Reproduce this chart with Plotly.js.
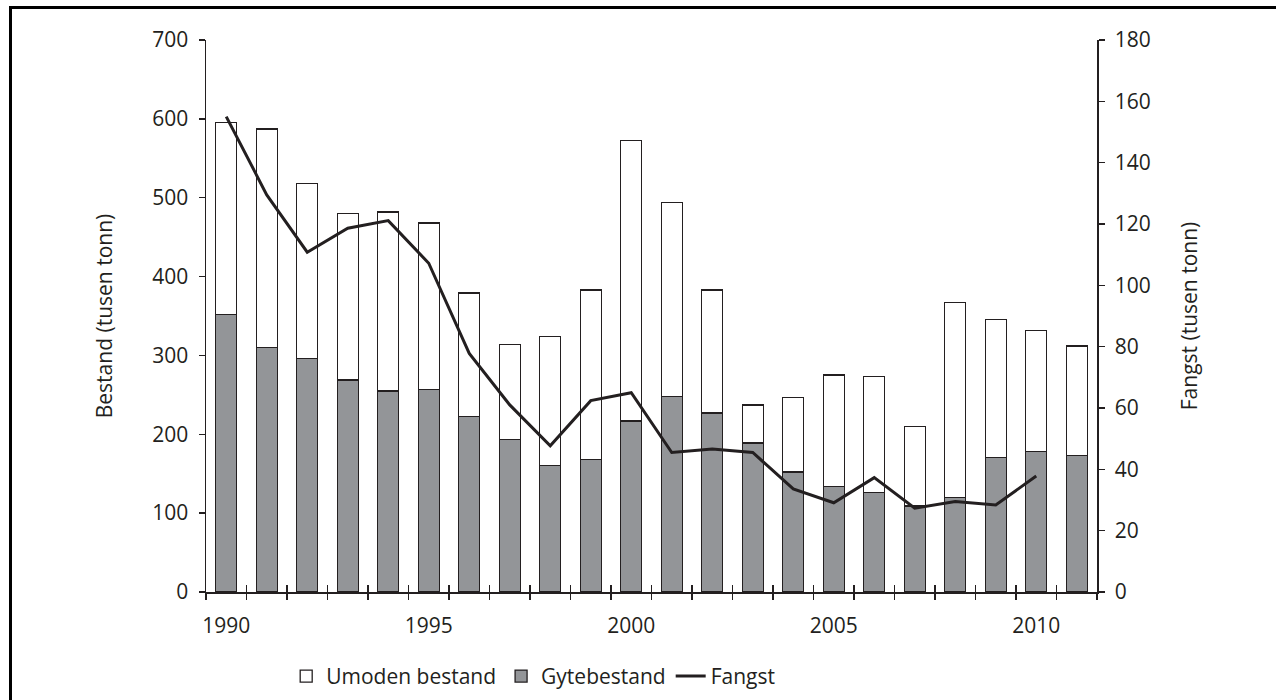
<!DOCTYPE html>
<html>
<head>
<meta charset="utf-8">
<script src="https://cdn.plot.ly/plotly-3.0.1.min.js"></script>
<style>
  html, body { margin: 0; padding: 0; background: #fff; overflow: hidden; }
  #chart { position: absolute; left: 0; top: 0; width: 1276px; height: 700px; }
  #frame { position: absolute; left: 9px; top: 6px; width: 1300px; height: 720px; border: 3px solid #000; pointer-events: none; }
</style>
</head>
<body>
<div id="chart"></div>
<div id="frame"></div>
<script>
const years = [1990,1991,1992,1993,1994,1995,1996,1997,1998,1999,2000,2001,2002,2003,2004,2005,2006,2007,2008,2009,2010,2011];
const gytebestand = [352,310,296,269,255,257,223,193,160,168,217,248,227,189,152,134,126,109,120,171,178,173];
const umodenBestand = [243,277,222,211,227,211,156,121,164,215,356,246,156,48,95,141,147,101,247,175,154,139];
const fangstYears = [1990,1991,1992,1993,1994,1995,1996,1997,1998,1999,2000,2001,2002,2003,2004,2005,2006,2007,2008,2009,2010];
const fangst = [155,129.5,110.8,118.6,121.1,107.2,77.8,61,47.7,62.4,65,45.5,46.6,45.5,33.6,29.1,37.3,27.3,29.5,28.4,37.8];
const xTickLabels = [1990,1995,2000,2005,2010];
const leftTicks = [0,100,200,300,400,500,600,700];
const rightTicks = [0,20,40,60,80,100,120,140,160,180];

const ink = '#231f20';
const font = {family: 'Open Sans, sans-serif', size: 21, color: ink};
const boundaries = years.map(y => y - 0.5).concat([years[years.length-1] + 0.5]);
const xRange = [years[0] - 0.5, years[years.length-1] + 0.5];

const traces = [
  {type: 'bar', name: 'Gytebestand', x: years, y: gytebestand, width: 0.52,
   marker: {color: '#939598', line: {color: ink, width: 1.3}}, legendrank: 2},
  {type: 'bar', name: 'Umoden bestand', x: years, y: umodenBestand, width: 0.52,
   marker: {color: '#ffffff', line: {color: ink, width: 1.3}}, legendrank: 1},
  {type: 'scatter', mode: 'lines', name: 'Fangst', x: fangstYears, y: fangst, xaxis: 'x2', yaxis: 'y2',
   line: {color: ink, width: 3}, legendrank: 3}
];

const layout = {
  width: 1276, height: 700,
  margin: {l: 206, r: 179, t: 40, b: 108, autoexpand: false},
  paper_bgcolor: '#fff', plot_bgcolor: '#fff',
  font: font,
  barmode: 'stack',
  showlegend: true,
  legend: {orientation: 'h', x: 0.09, xanchor: 'left', yref: 'container', y: 0.063, yanchor: 'top',
           font: font, itemwidth: 30, traceorder: 'normal'},
  xaxis: {range: xRange, tickvals: xTickLabels, ticktext: xTickLabels.map(String),
          ticks: '', showgrid: false, zeroline: false, showline: true, linecolor: ink, linewidth: 1.5,
          tickfont: font, ticklabelstandoff: 14,
          minor: {tickvals: boundaries, ticks: 'outside', ticklen: 6, tickwidth: 1.3, tickcolor: ink, showgrid: false}},
  xaxis2: {overlaying: 'x', anchor: 'y2', side: 'bottom', range: xRange, tickvals: boundaries, ticks: 'inside',
           ticklen: 7, tickwidth: 1.3, tickcolor: ink, showticklabels: false, showgrid: false,
           zeroline: false, showline: false},
  yaxis: {range: [0, 700], tickvals: leftTicks, ticks: 'outside', ticklen: 6, tickwidth: 1.3, tickcolor: ink,
          showgrid: false, zeroline: false, showline: true, linecolor: ink, linewidth: 1.5,
          tickfont: font, ticklabelstandoff: 6,
          title: {text: 'Bestand (tusen tonn)', font: font, standoff: 34}},
  yaxis2: {overlaying: 'y', side: 'right', anchor: 'x2', range: [0, 180], tickvals: rightTicks, ticks: 'outside',
           ticklen: 6, tickwidth: 1.3, tickcolor: ink, showgrid: false, zeroline: false,
           showline: true, linecolor: ink, linewidth: 1.5, tickfont: font, ticklabelstandoff: 6,
           title: {text: 'Fangst (tusen tonn)', font: font, standoff: 32}}
};

Plotly.newPlot('chart', traces, layout, {displayModeBar: false, staticPlot: true});
</script>
</body>
</html>
